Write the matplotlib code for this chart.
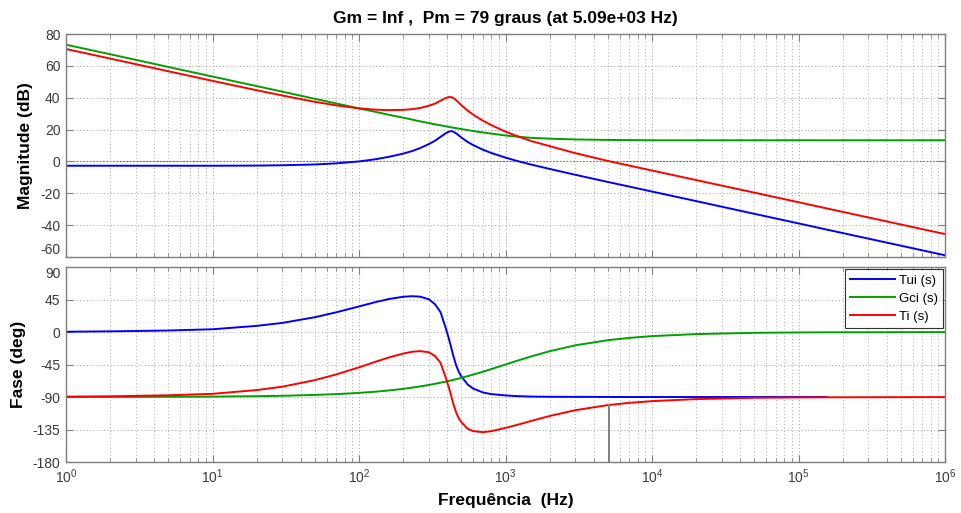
import numpy as np
import matplotlib
matplotlib.use("Agg")
import matplotlib.pyplot as plt
from matplotlib.ticker import LogLocator, FixedLocator, NullFormatter

plt.rcParams['font.family'] = ['Liberation Sans', 'DejaVu Sans']
plt.rcParams['axes.unicode_minus'] = False

# frequencia (Hz)
freq_hz = [1, 2, 5, 10, 20, 30, 50, 70, 100, 130, 160, 200, 230, 260, 300, 330,
           360, 390, 410, 425, 440, 460, 480, 500, 550, 600, 700, 800, 1000, 1200,
           1500, 2000, 3000, 5000, 7000, 1e4, 2e4, 5e4, 1e5, 1.56e5, 1e6]

# magnitude (dB)
mag_tui = [-2.7, -2.7, -2.7, -2.7, -2.6, -2.4, -1.9, -1.2, 0.0, 1.4, 2.9, 4.9, 6.5, 8.3,
           10.9, 13.0, 15.4, 17.7, 18.7, 19.0, 18.7, 17.6, 16.3, 15.0, 12.3, 10.3, 7.4,
           5.3, 2.4, 0.3, -2.0, -4.7, -8.4, -12.9, -15.8, -18.9, -24.9, -32.9, -38.9,
           -42.8, -58.9]
mag_gci = [73.3, 67.3, 59.3, 53.3, 47.3, 43.8, 39.3, 36.4, 33.3, 31.1, 29.3, 27.5, 26.3,
           25.2, 24.1, 23.3, 22.7, 22.1, 21.7, 21.4, 21.2, 20.9, 20.6, 20.3, 19.7, 19.1,
           18.2, 17.5, 16.3, 15.6, 14.8, 14.3, 13.8, 13.5, 13.4, 13.3, 13.3, 13.3, 13.3,
           13.3, 13.3]
mag_ti = [70.6, 64.6, 56.6, 50.6, 44.7, 41.4, 37.4, 35.2, 33.3, 32.5, 32.2, 32.4, 32.8,
          33.5, 35.0, 36.3, 38.1, 39.8, 40.4, 40.4, 39.9, 38.5, 36.9, 35.3, 32.0, 29.4,
          25.6, 22.8, 18.7, 15.9, 12.8, 9.6, 5.2, 0.3, -2.6, -5.7, -11.7, -19.6, -25.6,
          -29.5, -45.6]

# fase (graus)
fase_tui = [0.4, 0.9, 2.1, 3.8, 8.5, 12.6, 20.5, 27.3, 35.4, 41.5, 45.7, 48.8, 49.6, 49.0,
            45.3, 38.5, 27.5, 6.0, -9.0, -21.0, -33.0, -46.0, -55.5, -61.5, -72.5, -78.2,
            -83.7, -86.0, -87.8, -88.8, -89.4, -89.7, -89.8, -89.9, -90.0, -90.0, -90.0,
            -90.0, -90.0, -90.0, np.nan]
fase_gci = [-89.9, -89.9, -89.7, -89.4, -88.9, -88.3, -87.1, -86.0, -84.3, -82.6, -80.9,
            -78.7, -77.0, -75.4, -73.3, -71.7, -70.2, -68.7, -67.7, -67.0, -66.3, -65.3,
            -64.4, -63.4, -61.2, -59.0, -55.0, -51.3, -45.0, -39.8, -33.7, -26.6, -18.4,
            -11.3, -8.1, -5.7, -2.9, -1.1, -0.6, -0.4, -0.1]
fase_ti = [-89.5, -89.0, -87.6, -85.6, -80.4, -75.7, -66.6, -58.7, -48.9, -41.1, -35.2,
           -29.9, -27.4, -26.4, -28.0, -33.2, -42.7, -62.7, -76.7, -88.0, -99.3, -111.3,
           -119.9, -124.9, -133.7, -137.2, -138.7, -137.3, -132.8, -128.6, -123.1, -116.3,
           -108.2, -101.2, -98.1, -95.7, -92.9, -91.1, -90.6, -90.4, -90.1]

f_pm = 5.09e3
fase_pm = -101.0

cor_tui = '#0000ff'
cor_gci = '#00a000'
cor_ti = '#ff0000'
cinza = '#7f7f7f'
texto = '#3a3a3a'

fig = plt.figure(figsize=(9.61, 5.13), dpi=100)
ax1 = fig.add_axes([0.0687, 0.4990, 0.9147, 0.4347])
ax2 = fig.add_axes([0.0687, 0.0994, 0.9147, 0.3801])

ax1.semilogx(freq_hz, mag_tui, color=cor_tui, lw=1.4)
ax1.semilogx(freq_hz, mag_gci, color=cor_gci, lw=1.4)
ax1.semilogx(freq_hz, mag_ti, color=cor_ti, lw=1.4)
ax1.axhline(0, color='#555555', ls=(0, (1.5, 1.5)), lw=0.8, zorder=1)

ax2.semilogx(freq_hz, fase_tui, color=cor_tui, lw=1.4, label='Tui (s)')
ax2.semilogx(freq_hz, fase_gci, color=cor_gci, lw=1.4, label='Gci (s)')
ax2.semilogx(freq_hz, fase_ti, color=cor_ti, lw=1.4, label='Ti (s)')
ax2.axhline(-180, color='#555555', ls=(0, (1.5, 1.5)), lw=0.8, zorder=1)
ax2.plot([f_pm, f_pm], [-180, fase_pm], color=cinza, lw=1.4)

ax1.set_ylim(-60, 80)
ax1.set_yticks(np.arange(-60, 81, 20))
ax2.set_ylim(-180, 90)
ax2.set_yticks(np.arange(-180, 91, 45))

for ax in (ax1, ax2):
    ax.set_xlim(1, 1e6)
    ax.xaxis.set_major_locator(FixedLocator([10.0 ** k for k in range(7)]))
    ax.xaxis.set_minor_locator(LogLocator(base=10, subs=np.arange(2, 10), numticks=20))
    ax.xaxis.set_minor_formatter(NullFormatter())
    ax.grid(True, which='major', color='#9a9a9a', ls=(0, (1, 2.5)), lw=0.7)
    ax.grid(True, which='minor', axis='x', color='#ababab', ls=(0, (1, 2.5)), lw=0.7)
    ax.tick_params(which='both', direction='in', top=True, right=True,
                   colors=cinza, labelcolor=texto, labelsize=10)
    ax.tick_params(which='major', length=5, pad=4)
    ax.tick_params(which='minor', length=3)
    for s in ax.spines.values():
        s.set_color(cinza)
        s.set_linewidth(1.0)

ax1.tick_params(labelbottom=False)
# -60 e 90 ficam muito juntos entre os dois graficos
ax1.get_yticklabels()[0].set_va('bottom')
ax2.get_yticklabels()[-1].set_va('top')

ax1.set_ylabel('Magnitude (dB)', fontsize=12.5, fontweight='bold', labelpad=5)
ax2.set_ylabel('Fase (deg)', fontsize=12.5, fontweight='bold', labelpad=5)
ax2.set_xlabel('Frequência  (Hz)', fontsize=12.5, fontweight='bold', labelpad=5)
ax1.set_title('Gm = Inf ,  Pm = 79 graus (at 5.09e+03 Hz)', fontsize=12.5,
              fontweight='bold', pad=8)

leg = ax2.legend(loc='upper right', fontsize=9.5, frameon=True, fancybox=False,
                 handlelength=3.4, borderpad=0.4, labelspacing=0.45,
                 borderaxespad=0.15, handletextpad=0.3)
leg.get_frame().set_edgecolor('black')
leg.get_frame().set_linewidth(0.8)

fig.savefig('out.png', dpi=100, facecolor='white')
